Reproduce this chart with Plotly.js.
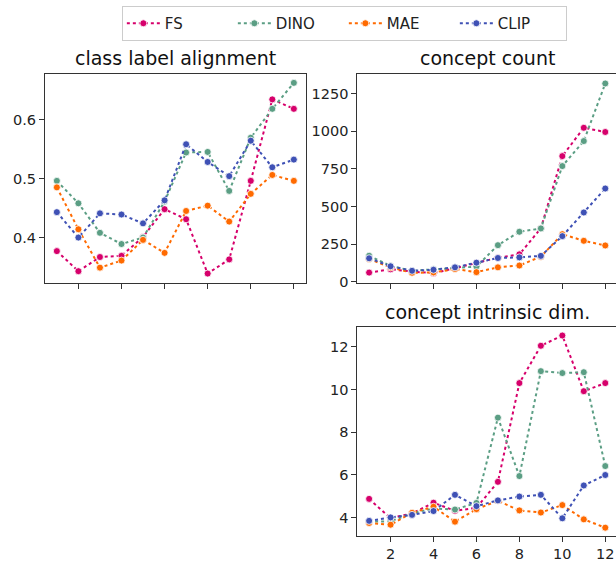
<!DOCTYPE html>
<html>
<head>
<meta charset="utf-8">
<script src="https://cdn.plot.ly/plotly-3.0.1.min.js"></script>
<style>html,body{margin:0;padding:0;background:#fff;}#chart{width:616px;height:567px;}</style>
</head>
<body>
<div id="chart"></div>
<script>
// ---- data ----
const layers = [1, 2, 3, 4, 5, 6, 7, 8, 9, 10, 11, 12];
const seriesNames = ["FS", "DINO", "MAE", "CLIP"];
const seriesColors = ["#d6006b", "#5b9e84", "#ff6a00", "#3f51b5"];

// class label alignment
const alignFS   = [0.377, 0.343, 0.367, 0.369, 0.401, 0.448, 0.431, 0.339, 0.363, 0.496, 0.634, 0.618];
const alignDINO = [0.496, 0.458, 0.408, 0.389, 0.400, 0.461, 0.544, 0.545, 0.479, 0.569, 0.618, 0.662];
const alignMAE  = [0.485, 0.414, 0.349, 0.361, 0.396, 0.374, 0.445, 0.454, 0.427, 0.474, 0.506, 0.496];
const alignCLIP = [0.443, 0.400, 0.441, 0.439, 0.424, 0.463, 0.558, 0.528, 0.504, 0.564, 0.519, 0.532];

// concept count
const countFS   = [61, 83, 68, 57, 90, 125, 160, 182, 355, 834, 1022, 994];
const countDINO = [173, 105, 73, 83, 95, 101, 243, 332, 354, 768, 934, 1316];
const countMAE  = [152, 95, 60, 62, 85, 64, 96, 108, 167, 316, 272, 241];
const countCLIP = [156, 103, 73, 80, 96, 127, 158, 162, 172, 303, 460, 619];

// concept intrinsic dim.
const dimFS   = [4.87, 3.97, 4.19, 4.69, 4.31, 4.45, 5.67, 10.30, 12.05, 12.53, 9.92, 10.30];
const dimDINO = [3.80, 3.82, 4.20, 4.42, 4.37, 4.68, 8.68, 5.94, 10.86, 10.77, 10.81, 6.41];
const dimMAE  = [3.74, 3.66, 4.22, 4.50, 3.80, 4.39, 4.78, 4.33, 4.23, 4.58, 3.91, 3.52];
const dimCLIP = [3.84, 4.00, 4.12, 4.30, 5.06, 4.53, 4.80, 4.98, 5.06, 3.96, 5.50, 5.99];

const panelTitles = ["class label alignment", "concept count", "concept intrinsic dim."];

// ---- build ----
const panels = [
  {data: [alignFS, alignDINO, alignMAE, alignCLIP], xa: "x", ya: "y"},
  {data: [countFS, countDINO, countMAE, countCLIP], xa: "x2", ya: "y2"},
  {data: [dimFS, dimDINO, dimMAE, dimCLIP], xa: "x3", ya: "y3"}
];
const traces = [];
panels.forEach((p, pi) => {
  p.data.forEach((vals, si) => {
    traces.push({
      type: "scatter", mode: "lines+markers",
      x: layers, y: vals, xaxis: p.xa, yaxis: p.ya,
      name: seriesNames[si], legendgroup: seriesNames[si],
      showlegend: pi === 0,
      line: {color: seriesColors[si], width: 2, dash: "dot"},
      marker: {color: seriesColors[si], size: 7, line: {color: "#fff", width: 0.8}},
      hoverinfo: "skip"
    });
  });
});

const W = 616, H = 567;
const tickFont = {family: "DejaVu Sans", size: 14.5, color: "#222"};
function axisBase(extra) {
  return Object.assign({
    showgrid: false, zeroline: false, showline: true, mirror: true,
    linecolor: "#333", linewidth: 1, ticks: "outside", ticklen: 5, tickwidth: 1,
    tickcolor: "#333", tickfont: tickFont, automargin: false, fixedrange: true
  }, extra);
}
const xL = [45 / W, 305.7 / W];
const xR = [357.3 / W, 1];
const yT = [1 - 283 / H, 1 - 74 / H];
const yB = [1 - 536 / H, 1 - 327 / H];
const xTicks = [2, 4, 6, 8, 10, 12];

const layout = {
  width: W, height: H,
  margin: {l: 0, r: 0, t: 0, b: 0},
  paper_bgcolor: "#fff", plot_bgcolor: "#fff",
  font: {family: "DejaVu Sans", color: "#222"},
  showlegend: true,
  legend: {
    orientation: "h", x: 0.559, xanchor: "center", y: 1 - 6 / H, yanchor: "top",
    bordercolor: "#cccccc", borderwidth: 1, bgcolor: "#fff",
    itemwidth: 33, entrywidth: 63, entrywidthmode: "pixels",
    font: {family: "DejaVu Sans", size: 15, color: "#222"}
  },
  xaxis: axisBase({domain: xL, anchor: "y", range: [0.45, 12.55], tickvals: xTicks, showticklabels: false}),
  yaxis: axisBase({domain: yT, anchor: "x", range: [0.323, 0.677], tickvals: [0.4, 0.5, 0.6], ticktext: ["0.4", "0.5", "0.6"]}),
  xaxis2: axisBase({domain: xR, anchor: "y2", range: [0.45, 12.5], tickvals: xTicks, showticklabels: false}),
  yaxis2: axisBase({domain: yT, anchor: "x2", range: [-8, 1379], tickvals: [0, 250, 500, 750, 1000, 1250]}),
  xaxis3: axisBase({domain: xR, anchor: "y3", range: [0.45, 12.5], tickvals: xTicks}),
  yaxis3: axisBase({domain: yB, anchor: "x3", range: [3.13, 12.93], tickvals: [4, 6, 8, 10, 12]}),
  annotations: [
    {text: panelTitles[0], x: (45 + 305.7) / 2 / W, y: 1 - 58 / H},
    {text: panelTitles[1], x: (357.3 + 617.3) / 2 / W, y: 1 - 58 / H},
    {text: panelTitles[2], x: (357.3 + 617.3) / 2 / W, y: 1 - 312 / H}
  ].map(a => Object.assign(a, {
    xref: "paper", yref: "paper", xanchor: "center", yanchor: "middle",
    showarrow: false, font: {family: "DejaVu Sans", size: 19, color: "#111"}
  }))
};

Plotly.newPlot("chart", traces, layout, {displayModeBar: false, staticPlot: true});
</script>
</body>
</html>
